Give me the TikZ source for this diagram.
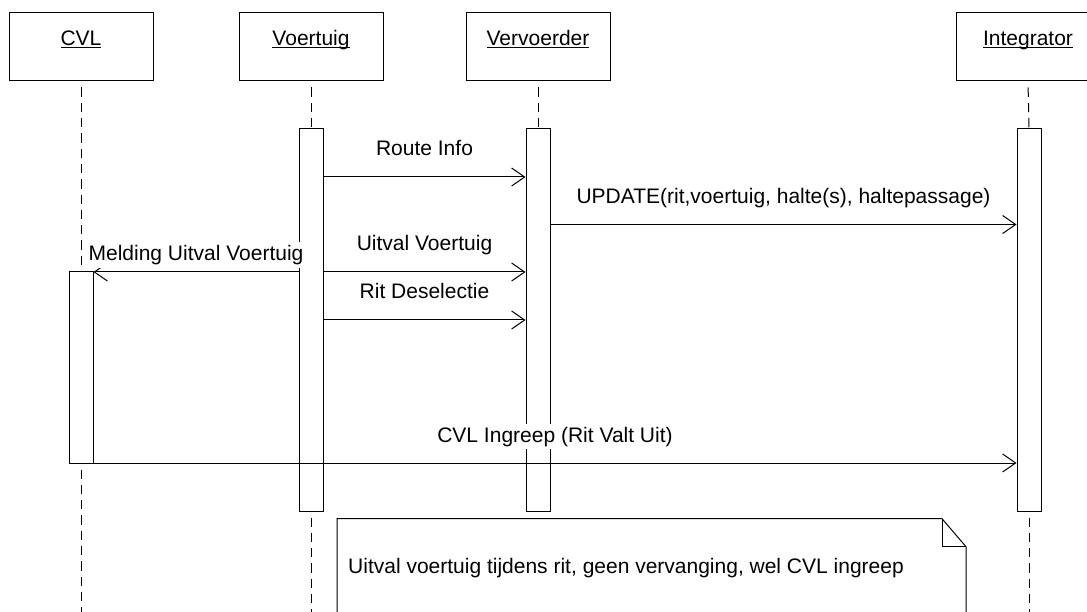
\documentclass[tikz,border=0pt]{standalone}
\usepackage{fontspec}
\setmainfont{Liberation Sans}
\usetikzlibrary{arrows.meta}
\newcommand\lname[1]{\underline{\smash{#1}}}

\begin{document}
\begin{tikzpicture}[x=1pt,y=-1pt,>={Straight Barb[length=13pt,width=18pt]},line width=1pt,
    every node/.style={font=\fontsize{21}{25}\selectfont},
    head/.style={draw,minimum width=144pt,minimum height=68pt,inner sep=0pt},
    act/.style={draw,fill=white,minimum width=24pt,inner sep=0pt},
    life/.style={dash pattern=on 9.3pt off 6pt,shorten <=6pt},
    lbl/.style={fill=white,inner sep=3pt,anchor=base,yshift=21pt}]
    \clip (0,0) rectangle (1087,612);
    \coordinate (bot) at (0,612);
    \coordinate (r1) at (0,177);
    \coordinate (r2) at (0,224.5);
    \coordinate (r3) at (0,272);
    \coordinate (r4) at (0,320);
    \coordinate (r5) at (0,463);

    \node[head] (cvl)   at (81,47)   {\lname{CVL}};
    \node[head] (voer)  at (311,47)  {\lname{Voertuig}};
    \node[head] (verv)  at (538,47)  {\lname{Vervoerder}};
    \node[head] (integ) at (1028,47) {\lname{Integrator}};

    \node[act,minimum height=191pt] (cvlA)   at (81,367.5) {};
    \node[act,minimum height=382pt] (voerA)  at (311,320)  {};
    \node[act,minimum height=382pt] (vervA)  at (538,320)  {};
    \node[act,minimum height=382pt] (integA) at (1029,320) {};

    \draw[life] (cvl.south) -- (cvlA.north);
    \draw[life] (cvlA.south) -- (cvlA.south |- bot);
    \draw[life] (voer.south) -- (voerA.north);
    \draw[life] (voerA.south) -- (voerA.south |- bot);
    \draw[life] (verv.south) -- (vervA.north);
    \draw[life] (vervA.south) -- (vervA.south |- bot);
    \draw[life] (integ.south) -- (integA.north);
    \draw[life] (integA.south) -- (integA.south |- bot);

    \draw[->] (voerA.east |- r1) -- node[lbl] {Route Info} (vervA.west |- r1);
    \draw[->] (vervA.east |- r2) -- node[lbl] {UPDATE(rit,voertuig, halte(s), haltepassage)} (integA.west |- r2);
    \draw[->] (voerA.west |- r3) -- node[lbl,yshift=-9.5pt] {Melding Uitval Voertuig} (cvlA.east |- r3);
    \draw[->] (voerA.east |- r3) -- node[lbl] {Uitval Voertuig} (vervA.west |- r3);
    \draw[->] (voerA.east |- r4) -- node[lbl] {Rit Deselectie} (vervA.west |- r4);
    \draw[->] (cvlA.east |- r5) -- node[lbl] {CVL Ingreep (Rit Valt Uit)} (integA.west |- r5);

    \filldraw[fill=white] (337,620) |- (942,518.7) -- (966,546.7) -- (966,620);
    \draw (942,518.7) |- (966,546.7);
    \node[anchor=base west,inner sep=0pt] (notetxt) at (347.7,573) {Uitval voertuig tijdens rit, geen vervanging, wel CVL ingreep};
\end{tikzpicture}
\end{document}
